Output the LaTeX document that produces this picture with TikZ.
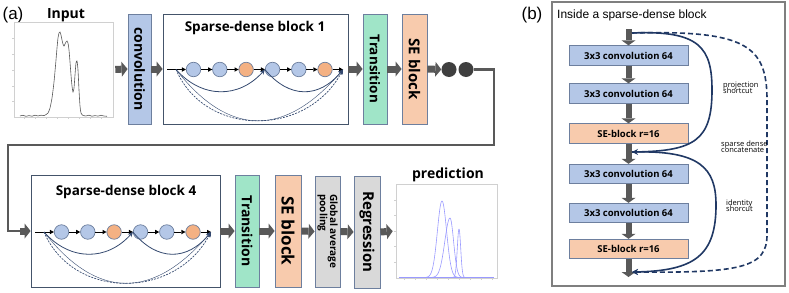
\documentclass[tikz,border=0pt]{standalone}
\usepackage{fontspec}
\setmainfont{Open Sans}
\newfontfamily\arialf{Liberation Sans}
\usetikzlibrary{arrows.meta}
\definecolor{boxblue}{HTML}{B4C7E7}
\definecolor{boxorange}{HTML}{F8CBAD}
\definecolor{circorange}{HTML}{F4B183}
\definecolor{boxmint}{HTML}{A0E5C8}
\definecolor{boxgray}{HTML}{D9D9D9}
\definecolor{edgec}{HTML}{6D7F9E}
\definecolor{framec}{HTML}{44546A}
\definecolor{fatc}{HTML}{595959}
\definecolor{darkdot}{HTML}{3F3F3F}
\definecolor{navy}{HTML}{203864}
\definecolor{curvec}{HTML}{34496F}
\definecolor{plotc}{HTML}{9A9AFF}
\definecolor{axisc}{HTML}{D0D0D0}
\definecolor{bframec}{HTML}{7F7F7F}
\newcommand\fsz[1]{\fontsize{#1}{#1}\selectfont}
\newcommand\sdchain[3]{%
\begin{scope}[shift={(#2,#3)}]
\coordinate (#1s) at (0,0);
\coordinate (#1k) at (9,0);
\node[bcirc] (#1c1) at (26.5,0) {};
\node[bcirc] (#1c2) at (52.8,0) {};
\node[ocirc] (#1c3) at (79.1,0) {};
\node[bcirc] (#1c4) at (105.5,0) {};
\node[bcirc] (#1c5) at (131.8,0) {};
\node[ocirc] (#1c6) at (158,0) {};
\coordinate (#1e) at (176,0);
\draw[chainarr] (#1s) -- (#1c1);
\draw[chainarr] (#1c1) -- (#1c2);
\draw[chainarr] (#1c2) -- (#1c3);
\draw[chainarr] (#1c3) -- (#1c4);
\draw[chainarr] (#1c4) -- (#1c5);
\draw[chainarr] (#1c5) -- (#1c6);
\draw[chainarr] (#1c6) -- (#1e);
\draw[skiparr] (#1k) .. controls (35,29.3) and (72,29.3) .. (#1c4.west);
\draw[skiparr] (#1c4.west) .. controls (122,29.3) and (152,29.3) .. (#1e);
\draw[skiparr, dash pattern=on 2pt off 1.2pt, line width=0.7pt] (#1k) .. controls (38,68) and (140,68) .. (#1e);
\draw[skiparr, line width=0.4pt] (#1k) .. controls (62,68) and (118,68) .. (#1e);
\end{scope}}
\begin{document}
\begin{tikzpicture}[x=1pt,y=-1pt,
  box/.style={draw=edgec, line width=0.8pt, inner sep=0pt, text=black},
  fat/.style={draw=fatc, line width=7pt, -{Triangle[length=6pt,width=15pt,line width=0pt]}},
  dfat/.style={draw=fatc, line width=6pt, -{Triangle[length=5pt,width=14pt,line width=0pt]}},
  bcirc/.style={circle, draw=edgec, line width=0.7pt, fill=boxblue, minimum size=14.5pt, inner sep=0pt},
  ocirc/.style={bcirc, fill=circorange},
  dcirc/.style={circle, fill=darkdot, minimum size=15pt, inner sep=0pt},
  chainarr/.style={line width=0.7pt, black, -{Triangle[length=4pt,width=4.5pt,line width=0pt]}},
  skiparr/.style={draw=curvec, line width=0.8pt, -{Stealth[length=5pt,width=4.5pt]}},
  sc/.style={draw=navy, line width=1.6pt, -{Stealth[length=6pt,width=6pt]}},
  sdbox/.style={draw=framec, line width=0.8pt, inner sep=0pt},
  ttl/.style={font=\bfseries\fsz{13.5}, inner sep=0pt},
  lbl/.style={font=\fsz{7.5}, align=left, inner sep=0pt, anchor=west},
  cbox/.style={box, fill=boxblue, minimum width=119pt, minimum height=19.5pt, font=\bfseries\fsz{9.5}},
  sbox/.style={cbox, fill=boxorange},
  loopline/.style={draw=fatc, line width=2.6pt}
]
\useasboundingbox (0,0) rectangle (789,292);

% ---------------- panel (a), row 1
\node[font=\arialf\fsz{17}] (la) at (13,15) {(a)};
\node[font=\bfseries\fsz{14}] (intitle) at (66,15) {Input};
\node[draw=axisc, line width=0.6pt, minimum width=99pt, minimum height=95pt, inner sep=0pt] (inplot) at (63.5,69.5) {};
\foreach \yy in {38,54,70,86,101} \draw[axisc, line width=0.5pt] (12,\yy) -- (14,\yy);
\foreach \xx in {24,35,46,57,68,79,90,101} \draw[axisc, line width=0.5pt] (\xx,117) -- (\xx,119);
\draw[black!65, line width=0.6pt] plot[smooth, tension=0.4] coordinates {
(20,116) (23,115.3) (26,116.3) (29,115.6) (32,116.2) (35,115.2) (38,116) (41,115.2) (44,115.6) (46,114.6)
(48,113) (50,108) (52,98) (54,82) (56,60) (57,48) (58,38) (59,33) (60,32) (61,35) (62,40) (63,44) (64,46)
(65,44) (66,42) (67,41) (68,43) (69,50) (70,62) (71,75) (72,86) (73,92) (74,88) (75,75) (76,63) (77,61)
(78,70) (79,90) (80,106) (81,113) (83,115.5) (86,116) (89,115.2) (92,116.2) (95,115.6) (98,116.1) (101,115.3) (104,116) (107,116.3)};

\node[box, fill=boxblue, minimum width=23pt, minimum height=110pt] (conv) at (139.5,69)
  {\rotatebox{-90}{\bfseries\fsz{14}convolution}};
\node[sdbox, minimum width=185pt, minimum height=110pt] (sd1) at (255.5,69) {};
\node[ttl] (sd1t) at (255,28) {Sparse-dense block 1};
\sdchain{p}{167}{69.5}
\node[box, fill=boxmint, minimum width=24pt, minimum height=110pt] (tr1) at (375,69)
  {\rotatebox{-90}{\bfseries\fsz{13.5}Transition}};
\node[box, fill=boxorange, minimum width=25pt, minimum height=110pt] (se1) at (414.5,69)
  {\rotatebox{-90}{\bfseries\fsz{15}SE block}};
\node[dcirc] (dk1) at (449,69.5) {};
\node[dcirc] (dk2) at (466,69.5) {};

\draw[fat, shorten <=2pt] (inplot.east) -- (conv.west);
\draw[fat] (conv.east) -- (sd1.west);
\draw[fat] (sd1.east) -- (tr1.west);
\draw[fat] (tr1.east) -- (se1.west);
\draw[fat] (se1.east) -- (dk1.west);

% loop to row 2
\coordinate (lp) at (20,231);
\draw[loopline] (dk2.east) -- (494,69.5) -- (494,145) -- (8,145) -- (8,231) -- (lp);

% ---------------- row 2
\node[sdbox, minimum width=189pt, minimum height=112pt] (sd4) at (125.5,231) {};
\node[ttl] (sd4t) at (126,192) {Sparse-dense block 4};
\sdchain{q}{35}{232}
\node[box, fill=boxmint, minimum width=24pt, minimum height=112pt] (tr4) at (247,231)
  {\rotatebox{-90}{\bfseries\fsz{14}Transition}};
\node[box, fill=boxorange, minimum width=26pt, minimum height=112pt] (se4) at (288,231)
  {\rotatebox{-90}{\bfseries\fsz{17}SE block}};
\node[box, fill=boxgray, minimum width=25pt, minimum height=111pt] (gap) at (327.5,231.5)
  {\rotatebox{-90}{\bfseries\fsz{10}\def\arraystretch{0.85}\begin{tabular}{@{}l@{}}Global average\\pooling\end{tabular}}};
\node[box, fill=boxgray, minimum width=26pt, minimum height=112pt] (reg) at (367,232)
  {\rotatebox{-90}{\bfseries\fsz{15}Regression}};
\node[font=\bfseries\fsz{14}] (predt) at (448,175) {prediction};
\node[draw=axisc, line width=0.6pt, minimum width=101pt, minimum height=94pt, inner sep=0pt] (pplot) at (446.5,231) {};
\foreach \yy in {200,215.5,231,246.5,262} \draw[axisc, line width=0.5pt] (394,\yy) -- (396,\yy);
\foreach \xx in {404,415,426,437,448,459,470,481,492} \draw[axisc, line width=0.5pt] (\xx,278) -- (\xx,280);
\draw[plotc, line width=0.6pt] (399,277.5) -- (494,277.5);
\draw[plotc, line width=0.6pt] plot[smooth, domain=420:464, samples=90] (\x,{277.5-76.5*exp(-((\x-442)/4.6)^2/2)});
\draw[plotc, line width=0.6pt] plot[smooth, domain=426:470, samples=90] (\x,{277.5-59.5*exp(-((\x-450)/(\x<450?5.2:3.6))^2/2)});
\draw[plotc, line width=0.6pt] plot[smooth, domain=450:470, samples=60] (\x,{277.5-48.5*exp(-((\x-459)/1.7)^2/2)});

\draw[fat] (lp) -- (sd4.west);
\draw[fat] (sd4.east) -- (tr4.west);
\draw[fat] (tr4.east) -- (se4.west);
\draw[fat] (se4.east) -- (gap.west);
\draw[fat] (gap.east) -- (reg.west);
\draw[fat, shorten >=3pt] (reg.east) -- (pplot.west);

% ---------------- panel (b)
\node[font=\arialf\fsz{17}] (lb) at (532,15) {(b)};
\node[draw=bframec, line width=1.5pt, minimum width=233pt, minimum height=284pt, inner sep=0pt] (bframe) at (668.5,144) {};
\node[font=\arialf\fsz{12}, anchor=west, inner sep=0pt] (btitle) at (557,15) {Inside a sparse-dense block};
\node[cbox] (b1) at (628.5,55.5) {3x3 convolution 64};
\node[cbox] (b2) at (628.5,93.5) {3x3 convolution 64};
\node[sbox] (s1) at (628.5,133.5) {SE-block r=16};
\node[cbox] (b3) at (628.5,174) {3x3 convolution 64};
\node[cbox] (b4) at (628.5,213) {3x3 convolution 64};
\node[sbox] (s2) at (628.5,249) {SE-block r=16};
\coordinate (tin) at (628.5,29);
\coordinate (bout) at (628.5,277);
\draw[dfat] (tin) -- (b1.north);
\draw[dfat] (b1.south) -- (b2.north);
\draw[dfat] (b2.south) -- (s1.north);
\draw[dfat] (s1.south) -- (b3.north);
\draw[dfat] (b3.south) -- (b4.north);
\draw[dfat] (b4.south) -- (s2.north);
\draw[dfat] (s2.south) -- (bout);
\coordinate (mt) at (632,33);
\coordinate (mm) at (632,152);
\coordinate (mb) at (632,272);
\draw[sc] (mt) .. controls (700,30) and (712,48) .. (712,90) .. controls (712,140) and (695,151) .. (mm);
\draw[sc] (mm) .. controls (700,150) and (716,168) .. (716,205) .. controls (716,255) and (695,271) .. (mb);
\draw[sc, dash pattern=on 5pt off 3pt] (mt) .. controls (745,30) and (767,45) .. (767,100) -- (767,235) .. controls (767,268) and (740,273) .. (mb);
\node[lbl] (l1) at (723,88) {projection\\[-1.5pt]shortcut};
\node[lbl] (l2) at (721,147) {sparse dense\\[-1.5pt]concatenate};
\node[lbl] (l3) at (726,206) {identity\\[-1.5pt]shorcut};
\end{tikzpicture}
\end{document}
